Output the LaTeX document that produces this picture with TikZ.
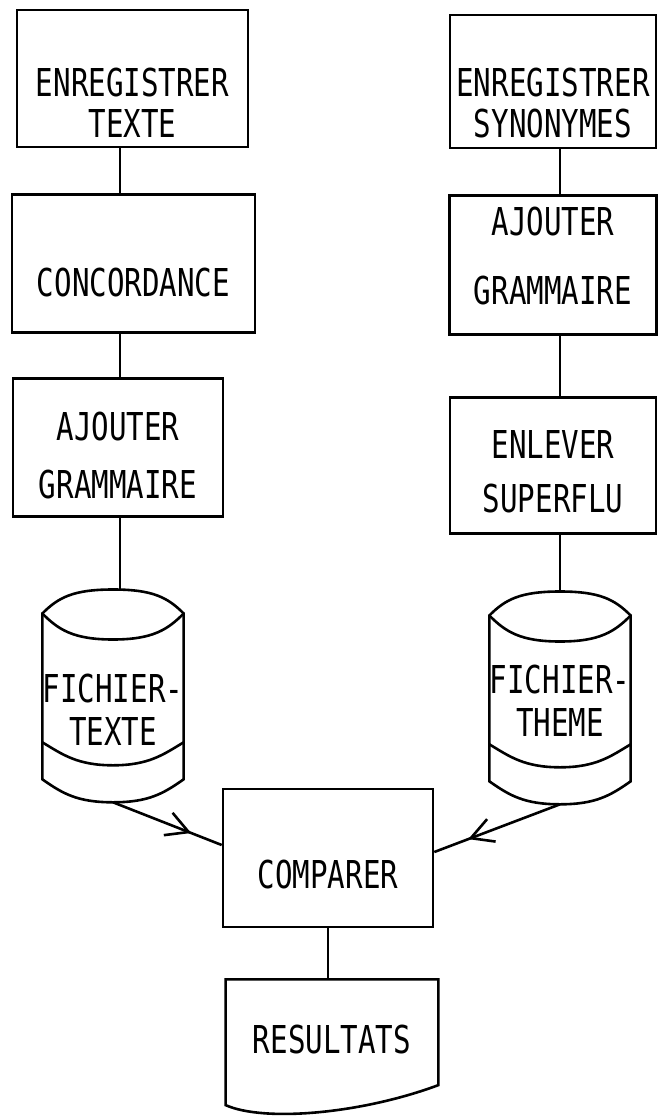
\documentclass[tikz,border=0pt]{standalone}
\usepackage{fontspec}
\newfontfamily\letterfont[FakeStretch=0.76]{DejaVu Sans Mono}
\usetikzlibrary{positioning,calc,arrows.meta,decorations.markings}
\newcommand\boxfont{\letterfont\fontsize{19.2pt}{20.5pt}\selectfont}
\newcommand\upstrut[1]{\rule{0pt}{#1}}
\newcommand\downstrut[1]{\rule[-#1]{0pt}{#1}}
% outline of a data file (cylinder) round node #1
\newcommand\drawfile[1]{%
  \coordinate (#1-top) at ($(#1.north)+(0,25pt)$);
  \coordinate (#1-bot) at ($(#1.south)+(0,-11.5pt)$);
  \coordinate (#1-tl) at ($(#1.north west)+(0,13pt)$);
  \coordinate (#1-tr) at ($(#1.north east)+(0,13pt)$);
  \draw[flowline] (#1-tl) -- (#1.south west)
    .. controls +(10pt,-7pt) and +(-18pt,0pt) .. (#1-bot)
    .. controls +(18pt,0pt) and +(-10pt,-7pt) .. (#1.south east)
    -- (#1-tr)
    .. controls +(-8pt,8pt) and +(20pt,0pt) .. (#1-top)
    .. controls +(-20pt,0pt) and +(8pt,8pt) .. (#1-tl) -- cycle;
  \draw[flowline] (#1-tl)
    .. controls +(8pt,-8pt) and +(-20pt,0pt) .. (#1.north)
    .. controls +(20pt,0pt) and +(-8pt,-8pt) .. (#1-tr);
  \draw[flowline] ($(#1.south west)+(0,18.5pt)$)
    .. controls +(10pt,-6pt) and +(-18pt,0pt) .. ($(#1.south)+(0,7pt)$)
    .. controls +(18pt,0pt) and +(-10pt,-6pt) .. ($(#1.south east)+(0,18.5pt)$);
}
\begin{document}
\begin{tikzpicture}[x=0.5pt, y=-0.5pt,
  procbox/.style={draw, line width=1.3pt, font=\boxfont, align=center, inner sep=2pt, minimum height=69pt},
  filebox/.style={font=\boxfont, align=center, inner sep=0pt, minimum width=69pt, minimum height=69.5pt},
  docbox/.style={font=\boxfont, align=center, inner sep=0pt, minimum width=106pt, minimum height=60pt},
  flowline/.style={line width=1.3pt},
  midarrow/.style={postaction={decorate}, decoration={markings, mark=at position #1 with {\arrow{>}}}},
  >={Straight Barb[length=11pt, width=12pt]},
]
\useasboundingbox (0,0) rectangle (658,1117);
% left branch
\node[procbox, minimum width=115.5pt, minimum height=68.5pt] (entt) at (132.5,78.5) {\upstrut{39pt}ENREGISTRER\\TEXTE};
\node[procbox, minimum width=121.5pt, below=22.5pt of entt, xshift=0.5pt] (conc) {\upstrut{33pt}CONCORDANCE};
\node[procbox, minimum width=105pt, below=21.5pt of conc, xshift=-7.75pt] (ajgl) {\upstrut{22.5pt}AJOUTER\\[8.5pt]GRAMMAIRE};
\node[filebox, below=61pt of ajgl, xshift=-2.5pt] (ftxt) {FICHIER-\\[1pt]TEXTE};
% right branch
\node[procbox, minimum width=103pt, minimum height=66.5pt] (ensy) at (553,81.5) {\upstrut{36pt}ENREGISTRER\\SYNONYMES};
\node[procbox, minimum width=103.5pt, minimum height=69.5pt, below=22.5pt of ensy] (ajgr) {AJOUTER\\[14pt]GRAMMAIRE\downstrut{9pt}};
\node[procbox, minimum width=103pt, minimum height=68pt, below=30pt of ajgr] (ensu) {\upstrut{21pt}ENLEVER\\[6.5pt]SUPERFLU};
\node[filebox, below=53.5pt of ensu, xshift=3.5pt] (fthm) {FICHIER-\\[1pt]THEME\downstrut{11pt}};
% merge and output
\node[procbox, minimum width=105pt] (comp) at (328,858) {\upstrut{30.5pt}COMPARER};
\node[docbox, below=25.5pt of comp, xshift=2pt] (res) {RESULTATS};
\drawfile{ftxt}
\drawfile{fthm}
\draw[flowline] (res.north west) -- (res.north east) -- ([yshift=7.5pt]res.south east)
  .. controls +(-39pt,-14.5pt) and +(19pt,-8.5pt) .. ([yshift=-2.5pt]res.south west) -- cycle;
% connectors
\coordinate (lcol) at (120,0);
\coordinate (rcol) at (560,0);
\draw[flowline] (entt.south -| lcol) -- (conc.north -| lcol);
\draw[flowline] (conc.south -| lcol) -- (ajgl.north -| lcol);
\draw[flowline] (ajgl.south -| lcol) -- (ftxt-top -| lcol);
\draw[flowline] (ensy.south -| rcol) -- (ajgr.north -| rcol);
\draw[flowline] (ajgr.south -| rcol) -- (ensu.north -| rcol);
\draw[flowline] (ensu.south -| rcol) -- (fthm-top -| rcol);
\draw[flowline] (comp.south) -- (comp.south |- res.north);
\draw[flowline, midarrow=0.72] (ftxt-bot) -- ([yshift=6.5pt]comp.west);
\draw[flowline, midarrow=0.73] (fthm-bot) -- ([yshift=3pt]comp.east);
\end{tikzpicture}
\end{document}
